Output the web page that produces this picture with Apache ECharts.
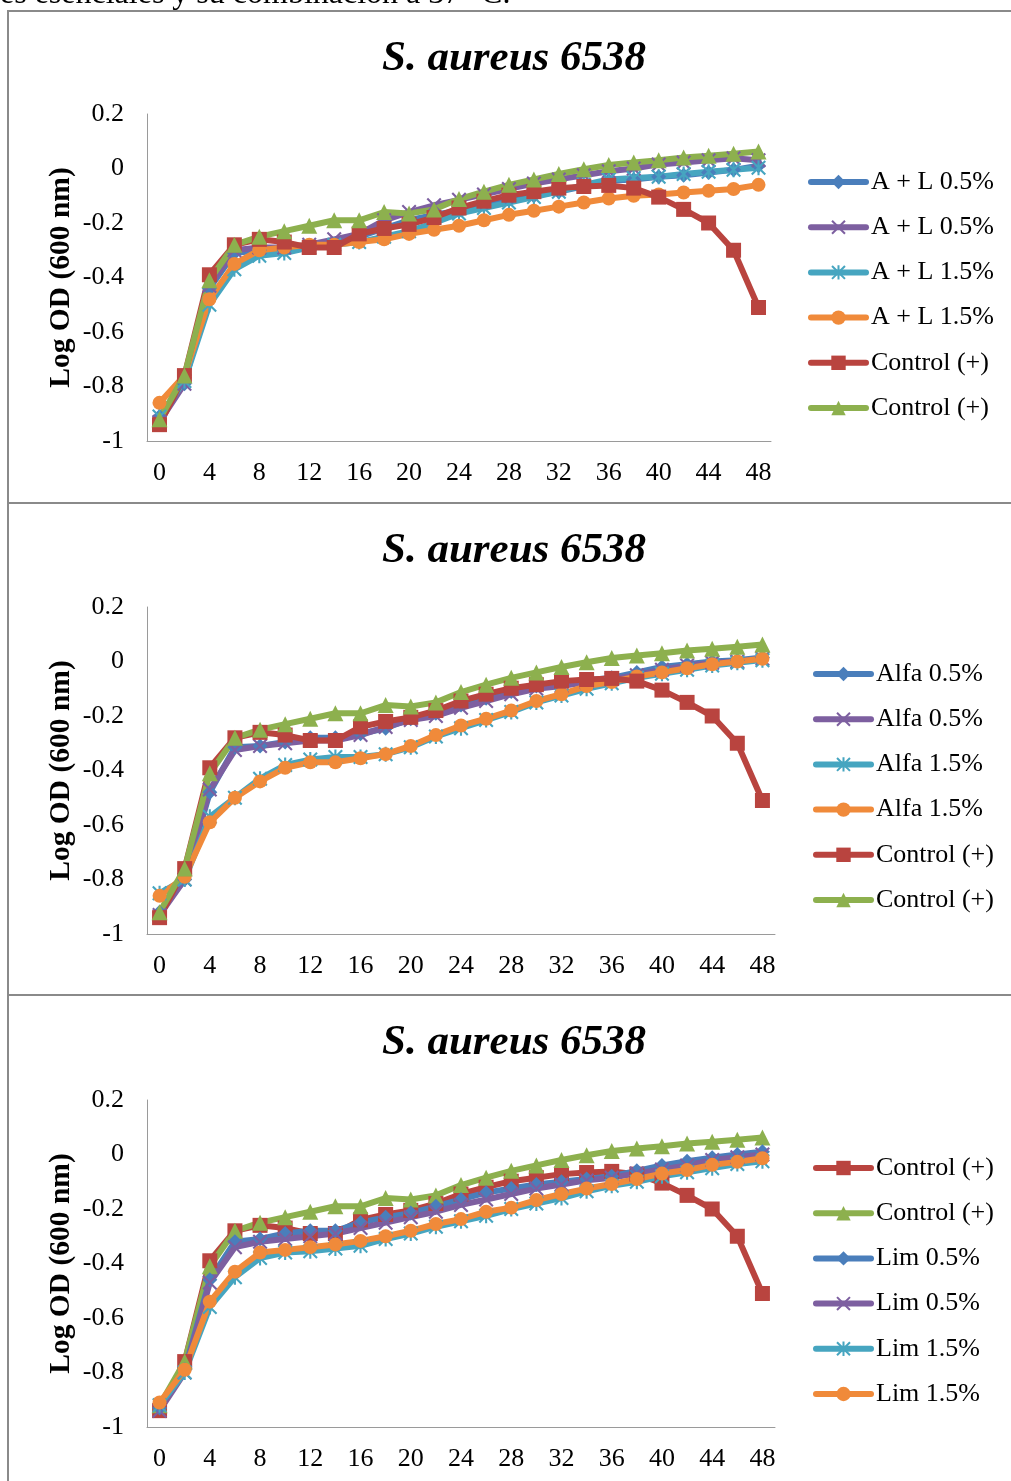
<!DOCTYPE html>
<html>
<head>
<meta charset="utf-8">
<script src="https://cdn.jsdelivr.net/npm/echarts@6/dist/echarts.min.js"></script>
<style>
  html, body { margin: 0; padding: 0; background: #fff; }
  #main { width: 1011px; height: 1481px; }
</style>
</head>
<body>
<div id="main"></div>
<script>
// hours of incubation
const hours = ['0','2','4','6','8','10','12','14','16','18','20','22','24','26','28','30','32','34','36','38','40','42','44','46','48'];

// controls (same in the three panels)
const controlRed   = [-0.94, -0.76, -0.39, -0.28, -0.26, -0.27, -0.29, -0.29, -0.24, -0.22, -0.205, -0.18, -0.145, -0.12, -0.098, -0.085, -0.072, -0.066, -0.062, -0.072, -0.105, -0.15, -0.20, -0.30, -0.51];
const controlGreen = [-0.92, -0.76, -0.41, -0.28, -0.25, -0.23, -0.21, -0.19, -0.19, -0.16, -0.165, -0.15, -0.112, -0.085, -0.06, -0.04, -0.02, -0.003, 0.013, 0.022, 0.03, 0.04, 0.047, 0.054, 0.062];

// panel 1 : A + L
const al05a = [-0.91, -0.79, -0.44, -0.31, -0.30, -0.30, -0.29, -0.28, -0.25, -0.22, -0.19, -0.17, -0.155, -0.135, -0.115, -0.10, -0.085, -0.065, -0.045, -0.04, -0.03, -0.025, -0.015, -0.005, 0.01];
const al05b = [-0.93, -0.79, -0.43, -0.30, -0.29, -0.29, -0.28, -0.26, -0.24, -0.19, -0.16, -0.135, -0.115, -0.095, -0.075, -0.055, -0.04, -0.025, -0.01, 0.0, 0.015, 0.022, 0.03, 0.038, 0.03];
const al15a = [-0.91, -0.78, -0.50, -0.37, -0.32, -0.31, -0.29, -0.28, -0.27, -0.25, -0.23, -0.20, -0.165, -0.145, -0.125, -0.105, -0.085, -0.06, -0.04, -0.035, -0.03, -0.02, -0.012, -0.005, 0.003];
const al15b = [-0.86, -0.76, -0.48, -0.35, -0.30, -0.29, -0.28, -0.28, -0.27, -0.26, -0.24, -0.225, -0.21, -0.19, -0.17, -0.155, -0.14, -0.125, -0.11, -0.10, -0.095, -0.088, -0.082, -0.075, -0.06];

// panel 2 : Alfa
const alfa05a = [-0.92, -0.80, -0.48, -0.315, -0.31, -0.295, -0.28, -0.28, -0.265, -0.245, -0.21, -0.19, -0.16, -0.135, -0.11, -0.09, -0.08, -0.07, -0.06, -0.04, -0.02, -0.01, 0.0, 0.005, 0.015];
const alfa05b = [-0.93, -0.80, -0.47, -0.325, -0.31, -0.30, -0.29, -0.29, -0.27, -0.24, -0.215, -0.20, -0.17, -0.145, -0.12, -0.10, -0.09, -0.075, -0.065, -0.05, -0.03, -0.015, -0.005, 0.0, 0.01];
const alfa15a = [-0.85, -0.80, -0.57, -0.50, -0.43, -0.38, -0.36, -0.35, -0.35, -0.34, -0.315, -0.275, -0.245, -0.215, -0.185, -0.15, -0.125, -0.10, -0.08, -0.06, -0.045, -0.03, -0.015, -0.005, 0.005];
const alfa15b = [-0.86, -0.79, -0.59, -0.50, -0.44, -0.39, -0.37, -0.37, -0.355, -0.34, -0.31, -0.27, -0.235, -0.21, -0.18, -0.145, -0.12, -0.09, -0.075, -0.055, -0.04, -0.025, -0.01, 0.0, 0.01];

// panel 3 : Lim
const lim05a = [-0.93, -0.79, -0.46, -0.32, -0.31, -0.29, -0.28, -0.28, -0.25, -0.23, -0.215, -0.19, -0.165, -0.14, -0.125, -0.11, -0.10, -0.09, -0.08, -0.06, -0.04, -0.025, -0.012, 0.0, 0.01];
const lim05b = [-0.94, -0.80, -0.47, -0.34, -0.32, -0.31, -0.30, -0.29, -0.27, -0.25, -0.23, -0.21, -0.185, -0.165, -0.145, -0.125, -0.11, -0.095, -0.085, -0.07, -0.055, -0.04, -0.02, -0.01, 0.0];
const lim15a = [-0.92, -0.80, -0.56, -0.45, -0.38, -0.36, -0.355, -0.345, -0.335, -0.31, -0.29, -0.265, -0.245, -0.225, -0.20, -0.18, -0.16, -0.135, -0.115, -0.10, -0.08, -0.065, -0.05, -0.035, -0.025];
const lim15b = [-0.91, -0.79, -0.54, -0.43, -0.36, -0.35, -0.34, -0.33, -0.317, -0.30, -0.28, -0.255, -0.237, -0.21, -0.195, -0.167, -0.145, -0.125, -0.108, -0.09, -0.07, -0.057, -0.038, -0.027, -0.014];

const FONT = '"Liberation Serif", "Times New Roman", serif';
const AXIS_GRAY = '#9a9a9a';
const LINE_W = 6;

// excel style markers
const X_MARK = 'path://M0,1L1,0L10,9L9,10Z M9,0L10,1L1,10L0,9Z';
const STAR_MARK = 'path://M0,1L1,0L10,9L9,10Z M9,0L10,1L1,10L0,9Z M4.3,0L5.7,0L5.7,10L4.3,10Z';

const styles = {
    blue:   { color: '#4A7EBB', symbol: 'diamond',  size: 15 },
    purple: { color: '#7D5FA0', symbol: X_MARK,     size: 15 },
    cyan:   { color: '#46A5C0', symbol: STAR_MARK,  size: 15 },
    orange: { color: '#F08A3A', symbol: 'circle',   size: 14 },
    red:    { color: '#B9443F', symbol: 'rect',     size: 15 },
    green:  { color: '#8DB04E', symbol: 'triangle', size: 16 }
};

// each panel : series in excel order (later drawn on top)
const panels = [
    { top: 11, gridTop: 114, gridWidth: 624, legendLeft: 808, legendTop: 169, series: [
        ['A + L 0.5%', 'blue', al05a], ['A + L 0.5%', 'purple', al05b],
        ['A + L 1.5%', 'cyan', al15a], ['A + L 1.5%', 'orange', al15b],
        ['Control (+)', 'red', controlRed], ['Control (+)', 'green', controlGreen]] },
    { top: 503, gridTop: 607, gridWidth: 628, legendLeft: 813, legendTop: 661, series: [
        ['Alfa 0.5%', 'blue', alfa05a], ['Alfa 0.5%', 'purple', alfa05b],
        ['Alfa 1.5%', 'cyan', alfa15a], ['Alfa 1.5%', 'orange', alfa15b],
        ['Control (+)', 'red', controlRed], ['Control (+)', 'green', controlGreen]] },
    { top: 995, gridTop: 1100, gridWidth: 628, legendLeft: 813, legendTop: 1155, series: [
        ['Control (+)', 'red', controlRed], ['Control (+)', 'green', controlGreen],
        ['Lim 0.5%', 'blue', lim05a], ['Lim 0.5%', 'purple', lim05b],
        ['Lim 1.5%', 'cyan', lim15a], ['Lim 1.5%', 'orange', lim15b]] }
];

const grid = [], xAxis = [], yAxis = [], title = [], legend = [], series = [];
const graphics = [{
    type: 'text', left: 0, top: -21, silent: true,
    style: { text: 'es esenciales y su combinación a 37 °C.', font: '32px ' + FONT, fill: '#000' }
}];

panels.forEach((p, i) => {
    graphics.push({
        type: 'rect', silent: true, z: -1,
        shape: { x: 8, y: p.top, width: 1020, height: 492 },
        style: { fill: 'none', stroke: '#8a8a8a', lineWidth: 2 }
    });
    grid.push({ left: 147, top: p.gridTop, width: p.gridWidth, height: 327 });
    title.push({
        text: 'S. aureus 6538', left: 509, top: p.top + 21, textAlign: 'center',
        textStyle: { fontFamily: FONT, fontSize: 43, fontStyle: 'italic', fontWeight: 'bold', color: '#000' }
    });
    xAxis.push({
        type: 'category', gridIndex: i, data: hours, boundaryGap: true,
        axisLine: { onZero: false, lineStyle: { color: AXIS_GRAY, width: 1 } },
        axisTick: { show: false },
        axisLabel: { interval: 1, margin: 19, fontFamily: FONT, fontSize: 26, color: '#000' }
    });
    yAxis.push({
        type: 'value', gridIndex: i, min: -1, max: 0.2, interval: 0.2,
        name: 'Log OD (600 nm)', nameLocation: 'middle', nameGap: 71, nameMoveOverlap: false,
        nameTextStyle: { fontFamily: FONT, fontSize: 29.5, fontWeight: 'bold', color: '#000' },
        axisLine: { show: true, onZero: false, lineStyle: { color: AXIS_GRAY, width: 1 } },
        axisTick: { show: false },
        splitLine: { show: false },
        axisLabel: { margin: 23, fontFamily: FONT, fontSize: 26, color: '#000' }
    });
    const names = [];
    p.series.forEach(([name, key, values], j) => {
        const st = styles[key];
        const id = name + '#' + i + '_' + j;
        names.push(id);
        series.push({
            type: 'line', name: id, xAxisIndex: i, yAxisIndex: i, data: values,
            symbol: st.symbol, symbolSize: st.size, showAllSymbol: true,
            color: st.color,
            lineStyle: { color: st.color, width: LINE_W, cap: 'round', join: 'round' },
            itemStyle: { color: st.color, borderWidth: 0 }
        });
    });
    legend.push({
        orient: 'vertical', left: p.legendLeft, top: p.legendTop, padding: 0,
        data: names, itemWidth: 55, itemHeight: 18, itemGap: 19.2,
        selectedMode: false,
        lineStyle: { width: LINE_W, cap: 'round' },
        formatter: (n) => n.split('#')[0],
        textStyle: { fontFamily: FONT, fontSize: 26, lineHeight: 26, color: '#000' }
    });
});

const chart = echarts.init(document.getElementById('main'));
chart.setOption({
    animation: false,
    backgroundColor: '#fff',
    title, grid, xAxis, yAxis, legend, series,
    graphic: graphics
});
</script>
</body>
</html>
